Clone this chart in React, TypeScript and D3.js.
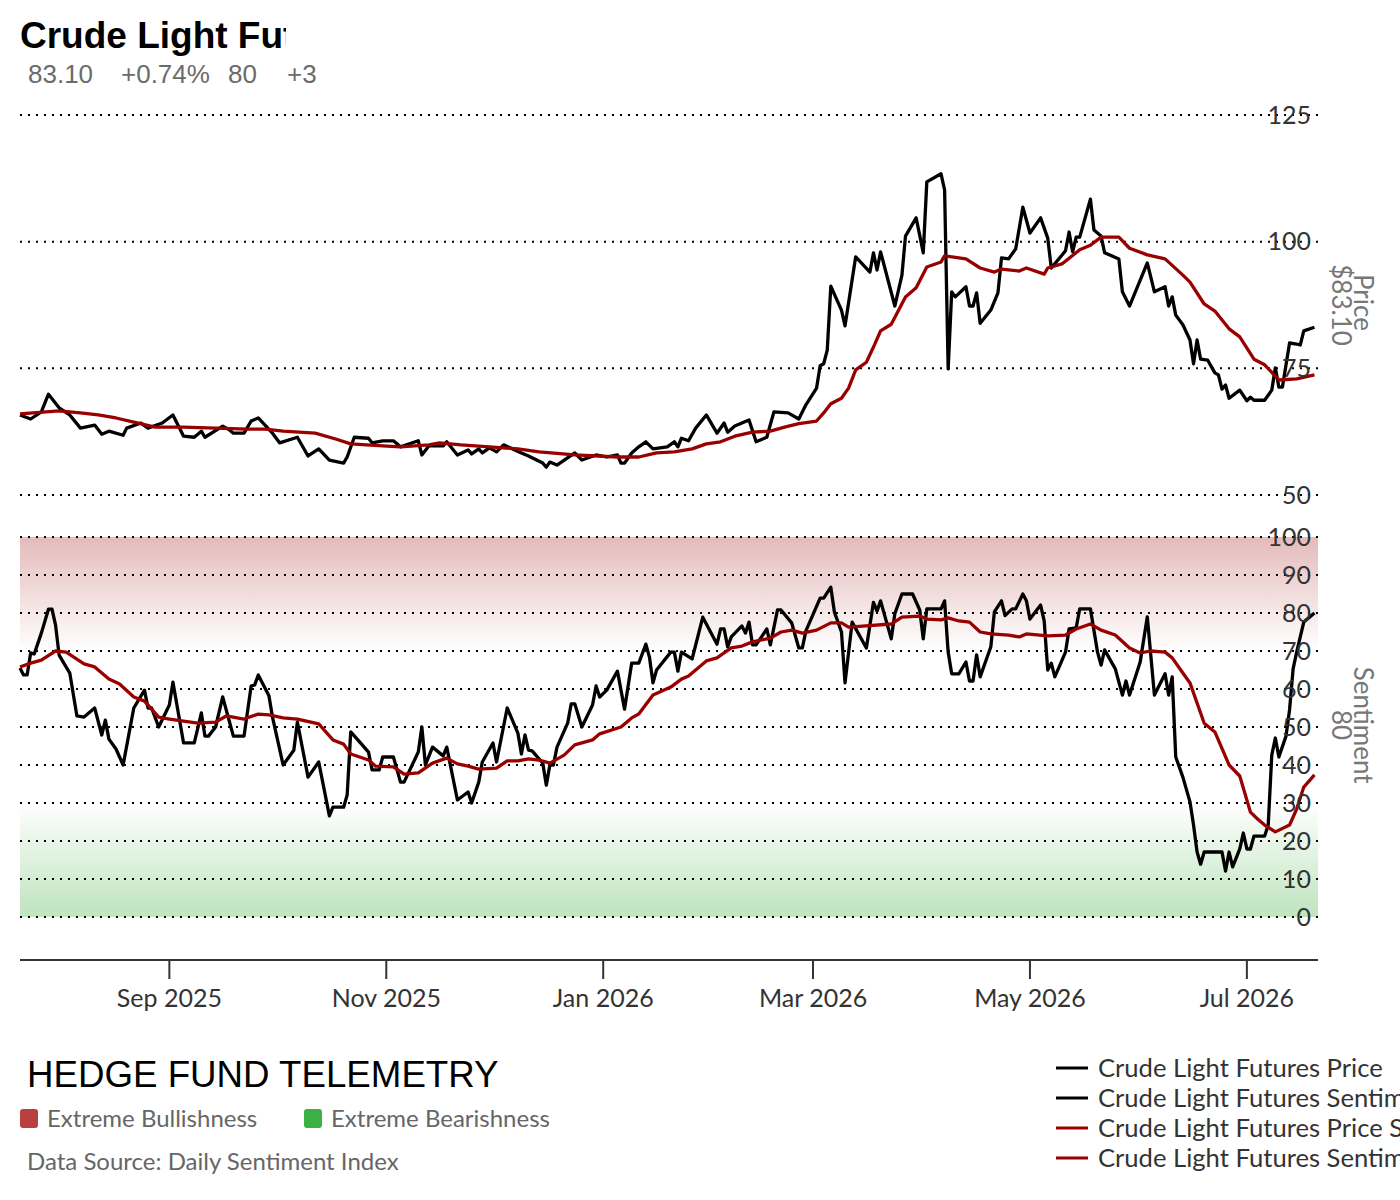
import * as d3 from "d3";

const START = "2025-07-21";

const priceDays = [
  0, 3, 6, 8, 11, 14, 17, 21, 23, 25, 29, 30, 34, 36, 40, 43, 46, 49, 51, 52,
  57, 59, 60, 63, 65, 67, 71, 73, 78, 81, 84, 87, 91, 92, 94, 98, 99, 102, 105, 107,
  112, 113, 115, 119, 120, 123, 126, 127, 129, 130, 132, 134, 136, 141, 143, 147, 148, 149, 151, 156,
  158, 162, 165, 168, 169, 170, 172, 174, 176, 178, 182, 184, 185, 186, 188, 190, 193, 196, 198, 199,
  201, 203, 205, 207, 210, 212, 216, 219, 221, 224, 225, 226, 227, 228, 231, 232, 235, 239, 240, 241,
  242, 246, 248, 249, 252, 254, 255, 259, 260, 261, 262, 263, 266, 267, 268, 269, 270, 273, 275, 276,
  278, 280, 282, 284, 287, 289, 290, 294, 295, 296, 297, 298, 301, 302, 304, 305, 309, 310, 312, 317,
  319, 322, 323, 324, 325, 327, 329, 330, 331, 332, 334, 336, 337, 338, 339, 340, 343, 345, 346, 347,
  350, 352, 353, 354, 355, 357, 359, 360, 361, 364,
];
const priceValues = [
  65.8, 65.0, 66.4, 69.9, 67.2, 65.8, 63.2, 63.8, 62.0, 62.6, 61.8, 63.2, 64.2, 63.2, 64.2, 65.8, 61.6, 61.4, 62.6, 61.4,
  63.6, 62.8, 62.2, 62.2, 64.6, 65.2, 62.2, 60.3, 61.4, 57.7, 59.1, 56.9, 56.3, 57.5, 61.4, 61.2, 60.3, 60.7, 60.7, 59.5,
  60.7, 57.9, 59.7, 59.7, 60.5, 57.9, 58.9, 58.1, 59.1, 58.3, 59.3, 58.5, 59.9, 58.3, 57.7, 56.3, 55.5, 56.5, 55.9, 58.3,
  56.9, 57.9, 57.5, 57.9, 56.3, 56.3, 58.3, 59.5, 60.5, 59.1, 59.5, 60.5, 59.5, 61.2, 60.7, 63.2, 65.8, 62.2, 64.2, 62.4,
  63.6, 64.2, 64.8, 60.5, 61.4, 66.4, 66.2, 65.0, 67.8, 71.1, 75.5, 75.9, 78.6, 91.2, 86.5, 83.4, 97.0, 94.0, 97.8, 94.4,
  98.0, 87.3, 93.4, 101.1, 104.7, 97.8, 111.8, 113.4, 110.2, 74.9, 90.1, 89.1, 91.1, 87.3, 87.3, 89.9, 83.9, 86.5, 89.9, 96.8,
  96.6, 98.6, 106.8, 101.7, 104.7, 100.7, 94.8, 98.2, 101.9, 98.0, 100.9, 100.9, 108.4, 102.3, 101.1, 97.8, 96.6, 90.1, 87.3, 95.8,
  90.1, 91.1, 87.3, 89.1, 85.5, 83.6, 80.6, 75.9, 80.6, 76.8, 76.6, 74.1, 73.7, 70.9, 71.7, 69.1, 70.7, 68.6, 69.3, 68.7,
  68.7, 70.7, 75.1, 71.3, 71.3, 80.0, 79.8, 79.6, 82.4, 83.1,
];

const priceSmoothDays = [
  0, 11, 17, 22, 27, 32, 38, 46, 55, 64, 69, 74, 83, 89, 93, 102, 107, 115, 118, 124,
  132, 140, 146, 156, 168, 174, 179, 184, 189, 193, 197, 201, 206, 211, 215, 219, 224, 226, 228, 231,
  233, 235, 238, 240, 242, 245, 249, 252, 255, 259, 260, 262, 266, 270, 274, 276, 281, 283, 288, 289,
  293, 298, 301, 304, 309, 312, 317, 322, 327, 329, 333, 336, 340, 343, 347, 350, 354, 359, 364,
];
const priceSmoothValues = [
  66.0, 66.6, 66.2, 65.8, 65.2, 64.4, 63.4, 63.4, 63.2, 63.0, 63.0, 62.6, 62.2, 61.0, 60.1, 59.7, 59.5, 59.9, 60.3, 59.9,
  59.5, 59.1, 58.5, 57.9, 57.5, 57.5, 58.3, 58.5, 59.1, 60.1, 60.5, 61.6, 62.4, 62.6, 63.4, 64.1, 64.6, 66.2, 68.0, 69.1,
  71.1, 74.7, 76.2, 79.2, 82.4, 83.7, 89.1, 90.9, 95.0, 96.0, 97.2, 97.0, 96.6, 94.8, 94.0, 94.6, 94.2, 94.8, 93.6, 94.8,
  95.6, 98.4, 99.3, 100.9, 100.9, 98.7, 97.4, 96.6, 93.4, 92.0, 87.7, 86.3, 82.8, 81.2, 76.8, 75.7, 72.7, 72.9, 73.7,
];

const sentDays = [
  0, 1, 2, 3, 4, 6, 8, 9, 10, 11, 14, 16, 18, 21, 23, 24, 25, 27, 29, 32,
  35, 36, 37, 39, 42, 43, 46, 49, 50, 51, 52, 53, 55, 57, 60, 63, 65, 66, 67, 70,
  71, 74, 77, 78, 81, 84, 87, 88, 91, 92, 93, 95, 98, 99, 101, 102, 105, 107, 108, 112,
  113, 114, 116, 119, 120, 123, 126, 127, 129, 130, 133, 134, 137, 140, 141, 142, 143, 144, 147, 148,
  149, 150, 151, 154, 155, 156, 158, 161, 162, 163, 165, 168, 170, 172, 174, 176, 177, 178, 179, 183,
  184, 185, 186, 189, 192, 196, 197, 198, 199, 200, 203, 204, 205, 206, 207, 210, 211, 213, 214, 217,
  219, 220, 221, 225, 226, 228, 229, 231, 232, 234, 238, 240, 241, 242, 245, 246, 248, 251, 253, 254,
  255, 259, 260, 261, 262, 264, 266, 267, 268, 269, 270, 273, 274, 276, 277, 279, 280, 282, 283, 284,
  287, 288, 289, 290, 291, 294, 295, 297, 298, 301, 303, 304, 305, 308, 310, 311, 312, 315, 317, 319,
  322, 323, 324, 325, 327, 329, 330, 331, 332, 333, 338, 339, 340, 341, 343, 344, 345, 346, 347, 350,
  351, 352, 353, 354, 356, 357, 358, 359, 361, 364,
];
const sentValues = [
  65.5, 63.7, 63.7, 69.5, 69.2, 74.7, 81.0, 81.0, 76.8, 68.9, 64.2, 52.9, 52.6, 55.0, 47.9, 51.8, 46.8, 44.2, 40.0, 55.0,
  59.7, 55.0, 55.0, 50.0, 55.8, 61.8, 45.8, 45.8, 49.7, 53.7, 47.6, 47.6, 50.0, 57.9, 47.6, 47.6, 60.8, 61.1, 63.7, 58.2,
  52.6, 40.0, 43.9, 51.3, 36.8, 40.8, 26.6, 28.9, 28.9, 32.1, 48.7, 46.6, 43.4, 38.7, 38.7, 42.1, 42.1, 35.5, 35.5, 43.4,
  50.0, 40.0, 44.7, 42.4, 44.7, 30.8, 32.9, 30.0, 35.5, 40.8, 45.8, 40.8, 55.0, 48.4, 42.9, 47.9, 43.9, 43.7, 40.5, 34.7,
  40.0, 40.0, 44.7, 51.0, 56.1, 56.1, 50.0, 55.8, 60.8, 57.9, 59.7, 64.7, 54.7, 66.8, 66.8, 71.8, 68.4, 61.6, 65.0, 69.7,
  69.7, 64.7, 69.7, 67.9, 78.9, 71.8, 75.8, 75.8, 71.1, 73.7, 76.6, 74.7, 77.6, 71.6, 71.6, 75.8, 71.6, 80.8, 80.8, 77.4,
  70.8, 70.8, 75.3, 83.9, 83.9, 86.8, 80.3, 75.0, 61.6, 77.6, 70.8, 82.8, 80.5, 83.2, 73.2, 79.8, 85.0, 85.0, 80.8, 73.2,
  81.1, 81.1, 83.2, 69.7, 64.0, 64.0, 67.1, 62.1, 62.1, 69.0, 63.2, 71.1, 80.3, 83.2, 79.3, 81.1, 81.1, 85.0, 83.2, 78.4,
  82.1, 77.9, 65.0, 66.8, 63.2, 69.7, 75.8, 76.1, 81.1, 81.1, 69.7, 66.3, 70.3, 65.3, 58.4, 62.1, 58.4, 67.1, 79.0, 58.4,
  64.0, 58.4, 63.2, 42.1, 36.8, 30.3, 24.2, 17.1, 13.9, 17.1, 17.1, 12.1, 17.1, 13.2, 17.9, 22.1, 17.9, 17.9, 21.3, 21.3,
  24.2, 42.6, 47.1, 42.1, 47.6, 54.5, 65.3, 69.7, 77.6, 80.0,
];

const sentSmoothDays = [
  0, 3, 6, 10, 13, 18, 21, 25, 28, 32, 35, 39, 42, 44, 50, 55, 58, 63, 67, 70,
  74, 78, 84, 88, 91, 93, 98, 100, 105, 108, 112, 116, 120, 123, 126, 129, 134, 137, 140, 143,
  146, 149, 153, 156, 161, 163, 169, 172, 174, 178, 183, 186, 188, 193, 196, 200, 203, 206, 211, 214,
  217, 220, 224, 228, 231, 233, 236, 245, 248, 253, 255, 259, 261, 264, 267, 270, 273, 278, 281, 283,
  289, 294, 297, 301, 304, 308, 312, 315, 318, 322, 324, 327, 329, 333, 336, 340, 343, 346, 348, 350,
  353, 357, 359, 361, 364,
];
const sentSmoothValues = [
  65.8, 66.8, 67.6, 70.0, 69.7, 66.6, 65.8, 62.6, 61.3, 57.9, 56.8, 52.6, 52.1, 51.8, 51.0, 51.3, 52.9, 52.1, 53.4, 53.2,
  52.4, 52.1, 50.8, 46.6, 45.5, 42.9, 41.3, 39.7, 39.5, 37.6, 37.9, 40.5, 41.8, 40.3, 39.7, 38.9, 39.2, 41.1, 41.1, 41.6,
  41.3, 40.5, 42.6, 45.3, 46.6, 48.2, 50.0, 52.4, 53.4, 58.4, 60.5, 62.6, 63.4, 67.4, 68.2, 70.8, 71.3, 72.4, 73.4, 75.0,
  75.5, 74.7, 75.5, 77.4, 77.4, 76.3, 76.5, 77.1, 78.9, 79.2, 78.4, 78.2, 78.7, 77.9, 77.6, 75.0, 74.5, 74.2, 73.7, 74.5,
  74.0, 74.2, 75.8, 77.1, 75.5, 74.2, 70.8, 69.5, 70.0, 69.7, 68.2, 64.2, 61.6, 51.0, 48.7, 40.0, 37.1, 27.6, 25.8, 24.2,
  22.4, 24.2, 28.4, 34.2, 37.4,
];

const priceTicks = [125, 100, 75, 50];
const sentTicks = [100, 90, 80, 70, 60, 50, 40, 30, 20, 10, 0];

const legendItems = [
  { label: "Crude Light Futures Price", color: "#000000" },
  { label: "Crude Light Futures Sentiment", color: "#000000" },
  { label: "Crude Light Futures Price Smoothed", color: "#990000" },
  { label: "Crude Light Futures Sentiment Smoothed", color: "#990000" },
];

type Pt = { date: Date; v: number };

const LATO = "Lato, 'Noto Sans', sans-serif";
const ARIAL = "'Liberation Sans', Arial, sans-serif";

export default function App() {
  const width = 1400;
  const height = 1200;
  const left = 20;
  const right = 1318;

  const start = new Date(START + "T00:00:00Z");
  const x = d3
    .scaleUtc()
    .domain([start, d3.utcDay.offset(start, 365)])
    .range([left, right]);
  const yPrice = d3.scaleLinear().domain([50, 125]).range([495, 115]);
  const ySent = d3.scaleLinear().domain([0, 100]).range([917, 537]);

  const toPts = (days: number[], vals: number[]): Pt[] =>
    days.map((d, i) => ({ date: d3.utcDay.offset(start, d), v: vals[i] }));

  const priceLine = d3
    .line<Pt>()
    .x((d) => x(d.date))
    .y((d) => yPrice(d.v));
  const sentLine = d3
    .line<Pt>()
    .x((d) => x(d.date))
    .y((d) => ySent(d.v));

  const monthTicks = x.ticks(d3.utcMonth.every(2)!);
  const fmt = d3.utcFormat("%b %Y");

  return (
    <svg
      width={width}
      height={height}
      style={{ position: "absolute", left: 0, top: 0, background: "#fff" }}
    >
      <defs>
        <clipPath id="titleClip">
          <rect x={0} y={0} width={286} height={60} />
        </clipPath>
        <linearGradient id="bullBand" x1="0" y1="0" x2="0" y2="1">
          <stop offset="0%" stopColor="rgb(228,186,186)" />
          <stop offset="100%" stopColor="#ffffff" />
        </linearGradient>
        <linearGradient id="bearBand" x1="0" y1="0" x2="0" y2="1">
          <stop offset="0%" stopColor="#ffffff" />
          <stop offset="100%" stopColor="rgb(190,228,190)" />
        </linearGradient>
      </defs>

      {/* header */}
      <text
        x={20}
        y={48}
        clipPath="url(#titleClip)"
        fontFamily={ARIAL}
        fontWeight="bold"
        fontSize={37}
        fill="#000"
      >
        Crude Light Futures
      </text>
      <g fontFamily={ARIAL} fontSize={26} fill="#6b6b6b">
        <text x={28} y={83}>83.10</text>
        <text x={121} y={83}>+0.74%</text>
        <text x={228} y={83}>80</text>
        <text x={287} y={83}>+3</text>
      </g>

      {/* sentiment zones */}
      <rect
        x={left}
        y={ySent(100)}
        width={right - left}
        height={ySent(70) - ySent(100)}
        fill="url(#bullBand)"
      />
      <rect
        x={left}
        y={ySent(30)}
        width={right - left}
        height={ySent(0) - ySent(30)}
        fill="url(#bearBand)"
      />

      {/* grid */}
      <g stroke="#000" strokeWidth={2} strokeDasharray="2 6">
        {priceTicks.map((t) => (
          <line key={"p" + t} x1={left} x2={right} y1={yPrice(t)} y2={yPrice(t)} />
        ))}
        {sentTicks.map((t) => (
          <line key={"s" + t} x1={left} x2={right} y1={ySent(t)} y2={ySent(t)} />
        ))}
      </g>

      {/* series */}
      <g fill="none" strokeWidth={3.3} strokeLinejoin="round">
        <path d={priceLine(toPts(priceDays, priceValues))!} stroke="#000" />
        <path d={priceLine(toPts(priceSmoothDays, priceSmoothValues))!} stroke="#990000" />
        <path d={sentLine(toPts(sentDays, sentValues))!} stroke="#000" />
        <path d={sentLine(toPts(sentSmoothDays, sentSmoothValues))!} stroke="#990000" />
      </g>

      {/* right axis labels */}
      <g fontFamily={LATO} fontSize={25} fill="#333" textAnchor="end">
        {priceTicks.map((t) => (
          <text key={"pl" + t} x={1311} y={yPrice(t)} dy="0.35em">
            {t}
          </text>
        ))}
        {sentTicks.map((t) => (
          <text key={"sl" + t} x={1311} y={ySent(t)} dy="0.35em">
            {t}
          </text>
        ))}
      </g>
      <g fontFamily={LATO} fontSize={26} fill="#777" textAnchor="middle">
        <text transform={`translate(1354,${yPrice(88)}) rotate(90)`}>Price</text>
        <text transform={`translate(1332,${yPrice(87.5)}) rotate(90)`}>$83.10</text>
        <text transform={`translate(1354,${ySent(50.5)}) rotate(90)`}>Sentiment</text>
        <text transform={`translate(1332,${ySent(50.5)}) rotate(90)`}>80</text>
      </g>

      {/* time axis */}
      <line x1={left} x2={right} y1={960} y2={960} stroke="#333" strokeWidth={2} />
      {monthTicks.map((t) => (
        <g key={t.toISOString()} transform={`translate(${x(t)},960)`}>
          <line y1={0} y2={19} stroke="#333" strokeWidth={2} />
          <text
            y={47}
            textAnchor="middle"
            fontFamily={LATO}
            fontSize={25}
            fill="#333"
          >
            {fmt(t)}
          </text>
        </g>
      ))}

      {/* footer */}
      <text x={27} y={1087} fontFamily={ARIAL} fontSize={36.7} fill="#000">
        HEDGE FUND TELEMETRY
      </text>
      <rect x={20} y={1109} width={18} height={19} rx={3} fill="#b94040" />
      <text x={47} y={1127} fontFamily={LATO} fontSize={24} fill="#666">
        Extreme Bullishness
      </text>
      <rect x={304} y={1109} width={18} height={19} rx={3} fill="#3cb043" />
      <text x={331} y={1127} fontFamily={LATO} fontSize={24} fill="#666">
        Extreme Bearishness
      </text>
      <text x={27} y={1170} fontFamily={LATO} fontSize={24} fill="#666">
        Data Source: Daily Sentiment Index
      </text>

      {/* legend */}
      {legendItems.map((item, i) => (
        <g key={item.label} transform={`translate(1056,${1068 + i * 30})`}>
          <line x1={0} x2={32} y1={0} y2={0} stroke={item.color} strokeWidth={3} />
          <text x={42} y={0} dy="0.35em" fontFamily={LATO} fontSize={25.6} fill="#333">
            {item.label}
          </text>
        </g>
      ))}
    </svg>
  );
}
